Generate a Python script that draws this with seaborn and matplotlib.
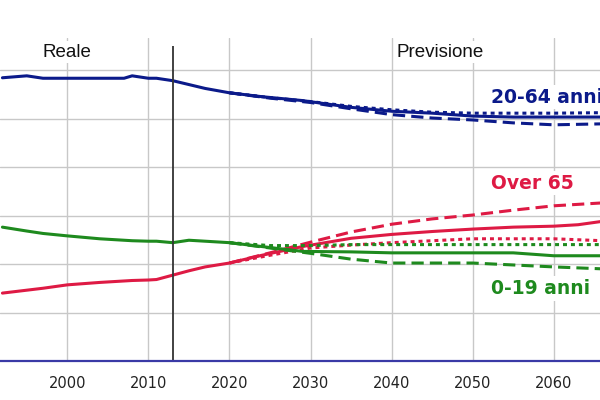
import numpy as np
import pandas as pd
import seaborn as sns
import matplotlib.pyplot as plt

# Dati: quota della popolazione per fascia d'età (%)
anni = [1992, 1995, 1997, 2000, 2004, 2007, 2008, 2010, 2011, 2013, 2015, 2017,
        2020, 2024, 2029, 2035, 2040, 2045, 2050, 2055, 2060, 2063, 2066]
adulti = [58.4, 58.8, 58.3, 58.3, 58.3, 58.3, 58.8, 58.3, 58.3, 57.8, 57.0, 56.2,
          55.3, 54.5, 53.7, 52.3, 51.5, 51.1, 50.5, 50.3, 50.3, 50.3, 50.3]
anziani = [14.0, 14.6, 15.0, 15.7, 16.2, 16.5, 16.6, 16.7, 16.8, 17.7, 18.6, 19.4,
           20.2, 21.8, 23.6, 25.3, 26.1, 26.7, 27.2, 27.6, 27.8, 28.1, 28.8]
giovani = [27.6, 26.8, 26.3, 25.8, 25.2, 24.9, 24.8, 24.7, 24.7, 24.4, 24.9, 24.7,
           24.4, 23.6, 22.6, 22.5, 22.3, 22.3, 22.3, 22.3, 21.7, 21.7, 21.7]

# Scenari alternativi (dal 2020)
anni_scen = [2020, 2025, 2030, 2035, 2040, 2045, 2050, 2055, 2060, 2066]
adulti_alto = [55.3, 54.3, 53.5, 52.5, 51.8, 51.3, 51.1, 51.1, 51.1, 51.2]
adulti_basso = [55.3, 54.2, 53.3, 52.0, 50.8, 50.1, 49.7, 49.1, 48.7, 48.9]
anziani_alto = [20.2, 22.3, 24.5, 26.6, 28.2, 29.3, 30.1, 31.1, 32.0, 32.6]
anziani_basso = [20.2, 21.8, 23.3, 23.9, 24.4, 24.8, 25.2, 25.2, 25.2, 24.8]
giovani_alto = [24.4, 23.8, 23.8, 24.0, 24.0, 24.0, 24.0, 24.0, 24.0, 24.0]
giovani_basso = [24.4, 23.3, 22.2, 21.0, 20.2, 20.2, 20.2, 19.8, 19.4, 19.0]

anno_base = 2013
tick_anni = [1990, 2000, 2010, 2020, 2030, 2040, 2050, 2060]

blu = '#0b1a8a'
rosso = '#de1a44'
verde = '#1e8a1e'

sns.set_style("white")
plt.rcParams['font.family'] = ['DejaVu Sans']

fig = plt.figure(figsize=(6, 4), dpi=100)
ax = fig.add_axes([0, 0.0975, 1, 0.8075])

lw = 2.2
punteggiato = (0, (1.3, 1.3))
tratteggiato = (0, (4, 2))

serie = [
    (anni, adulti, blu, '-'),
    (anni_scen, adulti_alto, blu, punteggiato),
    (anni_scen, adulti_basso, blu, tratteggiato),
    (anni, anziani, rosso, '-'),
    (anni_scen, anziani_alto, rosso, tratteggiato),
    (anni_scen, anziani_basso, rosso, punteggiato),
    (anni, giovani, verde, '-'),
    (anni_scen, giovani_alto, verde, punteggiato),
    (anni_scen, giovani_basso, verde, tratteggiato),
]
for x, y, col, ls in serie:
    df = pd.DataFrame({'anno': x, 'quota': y})
    sns.lineplot(data=df, x='anno', y='quota', color=col, linewidth=lw,
                 linestyle=ls, ax=ax, zorder=3)

ax.vlines(anno_base, 0, 65, color='#333333', linewidth=1.3, zorder=4)

ax.set_xticks(tick_anni)
ax.set_yticks([10, 20, 30, 40, 50, 60])
ax.set_yticklabels([])
ax.set_xlim(1991.7, 2065.7)
ax.set_ylim(0, 66.6)
ax.grid(True, color='#c8c8c8', linewidth=1.0, zorder=0)
ax.tick_params(axis='x', colors='#c8c8c8', length=6, width=1.0, pad=5,
               labelsize=10.5, labelcolor='#222222', direction='out')
ax.tick_params(axis='y', length=0)
ax.set_xlabel('')
ax.set_ylabel('')
for s in ['top', 'left', 'right']:
    ax.spines[s].set_visible(False)
ax.spines['bottom'].set_color('#3a3aa6')
ax.spines['bottom'].set_linewidth(1.6)
ax.spines['bottom'].set_zorder(5)

box = dict(facecolor='white', edgecolor='none', pad=2)
ax.text(2000, 63.7, 'Reale', ha='center', va='center', fontsize=13.5,
        family='Liberation Sans', color='#111111', bbox=box, zorder=6)
ax.text(2046.0, 63.7, 'Previsione', ha='center', va='center', fontsize=13.5,
        family='Liberation Sans', color='#111111', bbox=box, zorder=6)
ax.text(2052.2, 54.4, '20-64 anni', ha='left', va='center', fontsize=13.5,
        fontweight='bold', color=blu, bbox=box, zorder=6)
ax.text(2052.2, 36.7, 'Over 65', ha='left', va='center', fontsize=13.5,
        fontweight='bold', color=rosso, bbox=box, zorder=6)
ax.text(2052.2, 15.0, '0-19 anni', ha='left', va='center', fontsize=13.5,
        fontweight='bold', color=verde, bbox=box, zorder=6)

fig.savefig('out.png', dpi=100)
